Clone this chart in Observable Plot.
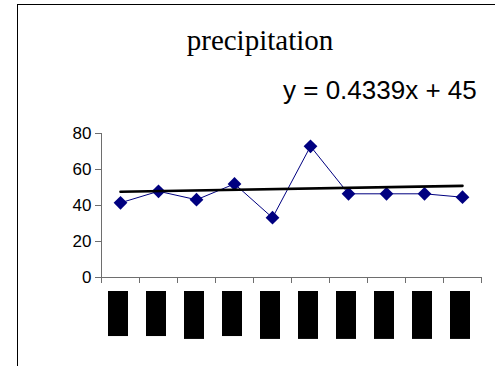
<!DOCTYPE html>
<html>
<head>
<meta charset="utf-8">
<script src="https://cdn.jsdelivr.net/npm/d3@7"></script>
<script src="https://cdn.jsdelivr.net/npm/@observablehq/plot@0.6"></script>
<style>
  html, body { margin: 0; padding: 0; background: #fff; overflow: hidden; }
  #wrap { position: relative; width: 495px; height: 366px; overflow: hidden; background: #fff; }
  #frame { position: absolute; left: 17px; top: 4px; width: 600px; height: 500px; border-left: 1px solid #000; border-top: 1px solid #000; box-sizing: border-box; }
  #title { position: absolute; left: 0; width: 520px; top: 22px; text-align: center; font-family: "Liberation Serif", serif; font-size: 29px; line-height: 36px; color: #000; }
  #eq { position: absolute; left: 283px; top: 75px; font-family: "Liberation Sans", sans-serif; font-size: 26px; line-height: 30px; color: #000; white-space: nowrap; }
  #chart { position: absolute; left: 0; top: 0; }
</style>
</head>
<body>
<div id="wrap">
  <div id="frame"></div>
  <div id="title">precipitation</div>
  <div id="eq">y = 0.4339x + 45</div>
  <div id="chart"></div>
</div>
<script>
// categories (index of each period; the original labels are blacked out)
const categories = [1, 2, 3, 4, 5, 6, 7, 8, 9, 10];
// precipitation values
const precipitation = [41.5, 47.9, 43.2, 52.0, 33.2, 72.9, 46.5, 46.5, 46.5, 44.6];
// linear trendline as drawn: value at first and last category
const trendX = [1, 10];
const trendY = [47.6, 50.9];
// y tick labels
const yTicks = [0, 20, 40, 60, 80];
// depth (in y units, below 0) of each blacked-out category label
const labelDepth = [-32.8, -32.8, -34.4, -32.8, -34.4, -34.4, -34.4, -34.4, -34.4, -34.4];

const points = categories.map((c, i) => ({x: c, y: precipitation[i]}));
const trend = trendX.map((x, i) => ({x, y: trendY[i]}));
const blocks = categories.map((c, i) => ({x1: c - 0.5, x2: c + 0.5, depth: labelDepth[i]}));
const boundaries = [categories[0] - 0.5, ...categories.map(c => c + 0.5)];

const chart = Plot.plot({
  width: 495,
  height: 366,
  marginLeft: 101,
  marginRight: 14,
  marginTop: 133,
  marginBottom: 89,
  style: { fontFamily: "Liberation Sans, sans-serif", fontSize: "17px", color: "#000", background: "transparent", overflow: "visible" },
  x: { type: "linear", domain: [boundaries[0], boundaries[boundaries.length - 1]] },
  y: { domain: [0, 80] },
  marks: [
    Plot.axisY({ ticks: yTicks, tickSize: 6, tickPadding: 4, stroke: "#6e6e6e", label: null, tickFormat: d3.format("d") }),
    Plot.axisX({ ticks: boundaries, tickSize: 6, tickFormat: () => "", stroke: "#6e6e6e", label: null }),
    Plot.ruleX([boundaries[0]], { stroke: "#6e6e6e", y1: 0, y2: 80 }),
    Plot.ruleY([0], { stroke: "#6e6e6e" }),
    Plot.rect(blocks, { x1: "x1", x2: "x2", y1: 0, y2: "depth", insetTop: 14, insetLeft: 7, insetRight: 11, fill: "#000" }),
    Plot.line(points, { x: "x", y: "y", stroke: "#000080", strokeWidth: 1 }),
    Plot.dot(points, { x: "x", y: "y", symbol: "diamond2", r: 6.2, fill: "#000080", stroke: "none" }),
    Plot.line(trend, { x: "x", y: "y", stroke: "#000", strokeWidth: 2.6 })
  ]
});
document.getElementById("chart").appendChild(chart);
</script>
</body>
</html>
